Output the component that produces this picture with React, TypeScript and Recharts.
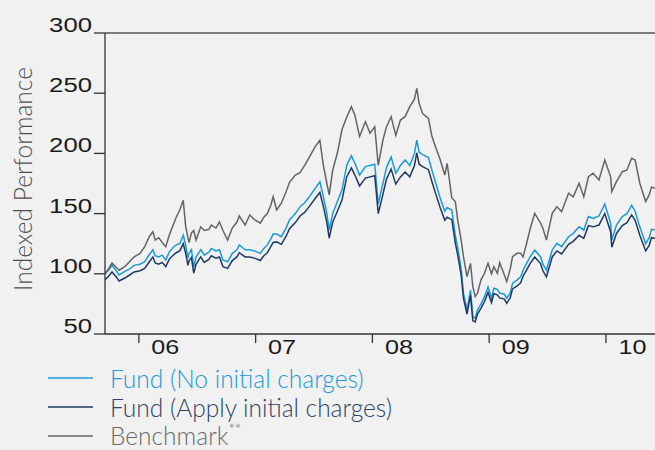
import React from "react";
import { LineChart, Line, XAxis, YAxis, ReferenceLine } from "recharts";

// time in fractional years
const years = [
  2005.71, 2005.74, 2005.77, 2005.81, 2005.83, 2005.88, 2005.92, 2005.96, 2006.01, 2006.05,
  2006.09, 2006.12, 2006.14, 2006.17, 2006.2, 2006.23, 2006.26, 2006.3, 2006.32, 2006.35,
  2006.38, 2006.4, 2006.42, 2006.43, 2006.45, 2006.47, 2006.49, 2006.53, 2006.56, 2006.6,
  2006.62, 2006.66, 2006.69, 2006.72, 2006.76, 2006.8, 2006.84, 2006.86, 2006.91, 2006.95,
  2006.99, 2007.04, 2007.07, 2007.1, 2007.13, 2007.15, 2007.18, 2007.22, 2007.26, 2007.29,
  2007.34, 2007.38, 2007.42, 2007.46, 2007.51, 2007.55, 2007.58, 2007.61, 2007.63, 2007.66,
  2007.7, 2007.74, 2007.78, 2007.82, 2007.85, 2007.89, 2007.94, 2007.98, 2008.02, 2008.05,
  2008.09, 2008.12, 2008.16, 2008.2, 2008.24, 2008.28, 2008.32, 2008.36, 2008.38, 2008.4,
  2008.43, 2008.48, 2008.51, 2008.54, 2008.58, 2008.62, 2008.64, 2008.68, 2008.71, 2008.73,
  2008.76, 2008.78, 2008.81, 2008.84, 2008.86, 2008.88, 2008.9, 2008.93, 2008.96, 2008.99,
  2009.02, 2009.04, 2009.07, 2009.09, 2009.13, 2009.15, 2009.18, 2009.2, 2009.24, 2009.27,
  2009.29, 2009.32, 2009.35, 2009.39, 2009.44, 2009.46, 2009.49, 2009.54, 2009.58, 2009.62,
  2009.68, 2009.72, 2009.77, 2009.81, 2009.85, 2009.89, 2009.94, 2009.99, 2010.04, 2010.05,
  2010.09, 2010.14, 2010.18, 2010.22, 2010.25, 2010.29, 2010.34, 2010.37, 2010.39, 2010.42,
];

const benchmark = [
  100, 104, 109, 105, 103, 106, 110, 114, 117, 122.5,
  131, 135, 128, 130, 126, 122.5, 132, 142, 147, 153,
  161, 140, 130, 126, 134, 136, 128, 139, 136, 137,
  140.5, 138, 143, 136, 128, 138, 143, 148, 140.5, 148.8,
  145, 142, 147, 150, 157, 164, 153, 158.6, 168, 176,
  182, 184, 190, 197, 205.6, 211, 190, 175, 165.5, 186,
  200.3, 220, 230, 238.8, 232, 214, 226.3, 216.7, 222, 190,
  211, 222, 230.5, 215, 227.7, 230.5, 238.8, 245, 254, 241.6,
  233, 229, 214, 205.6, 195, 182, 191.8, 163, 160, 145,
  128, 114, 97.6, 108.7, 89.3, 81, 84, 95, 100.4, 108.7,
  100, 105.9, 100.4, 109.2, 99, 93.5, 104, 114.2, 117, 117,
  114, 125, 137, 150.2, 142, 137.8, 128, 150.2, 155.7, 151.6,
  166.9, 164, 175.2, 164, 180.6, 183.5, 178, 194.5, 180.6, 168.2,
  176.5, 184.8, 186.2, 196, 194.5, 175.2, 160, 165.5, 172, 171,
];

const fundNoCharges = [
  100, 103, 107, 102, 99, 102, 104, 107, 108, 110,
  116, 120, 115, 114, 115.5, 111.5, 118, 122.5, 124, 125,
  132, 124, 113, 117, 120, 106, 114, 120, 115.5, 118,
  121, 119, 120, 111.5, 110, 117, 120, 124, 120, 120,
  119, 117, 121, 124, 129, 133, 133, 130.8, 138, 144.7,
  150, 155.7, 159, 164, 171, 176.5, 164, 150, 136.4, 150.2,
  160, 170, 190, 198, 191.8, 182, 189, 190, 191, 158,
  175, 188, 197, 183.5, 190, 194.5, 190, 200, 211, 201,
  199, 196.5, 186, 176, 163, 152, 155, 153, 132, 122,
  104, 84, 70, 86.5, 64.4, 63, 70, 75, 81, 89,
  80, 88, 87, 84, 83, 79.7, 84, 92, 95, 97.6,
  103, 108.7, 114, 119.8, 114, 108, 103, 119.8, 125.3, 122.5,
  130.8, 133.6, 139, 136.4, 147.6, 146, 148, 158, 142, 128,
  140.5, 147.6, 150, 157, 152, 139, 125, 130, 137, 136.4,
];

const fundWithCharges = [
  95, 98, 101.5, 97, 94, 96.5, 99, 101.5, 102.5, 104.5,
  110, 114, 109, 108, 109.5, 106, 112, 116, 117.5, 119,
  125, 117.5, 107, 111, 113.5, 100.5, 108, 114, 109.5, 112,
  115, 113, 114, 106, 104.5, 111, 114, 117.5, 114, 114,
  113, 111, 115, 117.5, 122.5, 126, 126.5, 124.5, 131, 137.5,
  142.5, 148, 151, 156, 162.5, 167.5, 156, 142.5, 129.7, 143,
  152, 161.5, 180.5, 188, 182, 173, 179.5, 180.5, 181.5, 150,
  166, 178.5, 187, 174.5, 180.5, 184.5, 180.5, 190, 200.5, 191,
  189, 186.5, 176.5, 167, 155, 144.5, 147, 145, 125.5, 116,
  99, 79.5, 66.5, 82, 61, 60, 66.5, 71.5, 77, 84.5,
  76, 83.5, 82.5, 80, 79, 75.5, 80, 87.5, 90, 92.5,
  98, 103, 108.5, 114, 108.5, 102.5, 97.5, 114, 119, 116.5,
  124.5, 127, 132, 129.5, 140, 139, 140.5, 150, 135, 122,
  133.5, 140, 142.5, 149, 144.5, 132, 119, 123.5, 130, 129.5,
];

const xTicks = [2006, 2007, 2008, 2009, 2010];
const xTickLabels = ["06", "07", "08", "09", "10"];
const yTicks = [50, 100, 150, 200, 250, 300];

const seriesNames = ["Fund (No initial charges)", "Fund (Apply initial charges)", "Benchmark"];
const seriesColors = ["#1b9ad8", "#1e3a62", "#646464"];
const legendTextColors = ["#1b9ad8", "#2b4468", "#6a6a6a"];

const rows = years.map((t, i) => ({
  t,
  bench: benchmark[i],
  fund: fundNoCharges[i],
  fundCharged: fundWithCharges[i],
}));

const AXIS_COLOR = "#333";
const NUM_FONT = "'Liberation Sans', Arial, sans-serif";
const TEXT_FONT = "Lato, 'Open Sans', sans-serif";

const XTick = (props: any) => {
  const { x, y, payload } = props;
  const idx = xTicks.indexOf(payload.value);
  const label = idx >= 0 ? xTickLabels[idx] : String(payload.value);
  return (
    <g>
      <line x1={x} x2={x} y1={y} y2={y + 9} stroke={AXIS_COLOR} strokeWidth={1.3} />
      <text
        x={x + 12.5}
        y={y + 20}
        fontFamily={NUM_FONT}
        fontSize={19.5}
        fill="#1a1a1a"
        textLength={label.length * 14}
        lengthAdjust="spacingAndGlyphs"
      >
        {label}
      </text>
    </g>
  );
};

const YTick = (props: any) => {
  const { x, y, payload } = props;
  const label = String(payload.value);
  return (
    <g>
      <line x1={x - 11} x2={x} y1={y} y2={y} stroke={AXIS_COLOR} strokeWidth={1.3} />
      <text
        x={x - 13}
        y={y - 1}
        textAnchor="end"
        fontFamily={NUM_FONT}
        fontSize={19.5}
        fill="#1a1a1a"
        textLength={label.length * 14.3}
        lengthAdjust="spacingAndGlyphs"
      >
        {label}
      </text>
    </g>
  );
};

export default function App() {
  return (
    <div
      style={{
        position: "absolute",
        left: 0,
        top: 0,
        width: 655,
        height: 450,
        background: "#f1f1f1",
        overflow: "hidden",
      }}
    >
      <LineChart
        width={655}
        height={450}
        data={rows}
        margin={{ top: 33, right: 0, bottom: 0, left: 0 }}
      >
        <XAxis
          dataKey="t"
          type="number"
          domain={[2005.71, 2010.42]}
          ticks={xTicks}
          height={116}
          tickSize={0}
          tickMargin={0}
          tickLine={false}
          axisLine={{ stroke: AXIS_COLOR, strokeWidth: 1.3 }}
          tick={<XTick />}
          allowDataOverflow
        />
        <YAxis
          type="number"
          domain={[50, 300]}
          ticks={yTicks}
          width={105}
          tickSize={0}
          tickMargin={0}
          tickLine={false}
          axisLine={{ stroke: AXIS_COLOR, strokeWidth: 1.3 }}
          tick={<YTick />}
          allowDataOverflow
        />
        <ReferenceLine y={300} stroke="#555" strokeWidth={1.3} />
        <Line
          type="linear"
          dataKey="fund"
          stroke={seriesColors[0]}
          strokeWidth={1.5}
          dot={false}
          isAnimationActive={false}
        />
        <Line
          type="linear"
          dataKey="fundCharged"
          stroke={seriesColors[1]}
          strokeWidth={1.5}
          dot={false}
          isAnimationActive={false}
        />
        <Line
          type="linear"
          dataKey="bench"
          stroke={seriesColors[2]}
          strokeWidth={1.5}
          dot={false}
          isAnimationActive={false}
        />
      </LineChart>
      <svg
        width={655}
        height={450}
        style={{ position: "absolute", left: 0, top: 0, pointerEvents: "none" }}
      >
        <text
          transform="translate(32,179) rotate(-90)"
          textAnchor="middle"
          fontFamily={TEXT_FONT}
          fontSize={24.5}
          fontWeight={300}
          fill="#4f4f4f"
        >
          Indexed Performance
        </text>
        {seriesNames.map((name, i) => (
          <g key={name}>
            <line
              x1={48}
              x2={93}
              y1={378 + i * 29}
              y2={378 + i * 29}
              stroke={seriesColors[i]}
              strokeWidth={1.5}
            />
            <text
              x={110}
              y={388 + i * 28.5}
              fontFamily={TEXT_FONT}
              fontSize={24.5}
              fontWeight={300}
              fill={legendTextColors[i]}
            >
              {name}
              {i === 2 ? (
                <tspan dy={-10} fontSize={15}>
                  **
                </tspan>
              ) : null}
            </text>
          </g>
        ))}
      </svg>
    </div>
  );
}
